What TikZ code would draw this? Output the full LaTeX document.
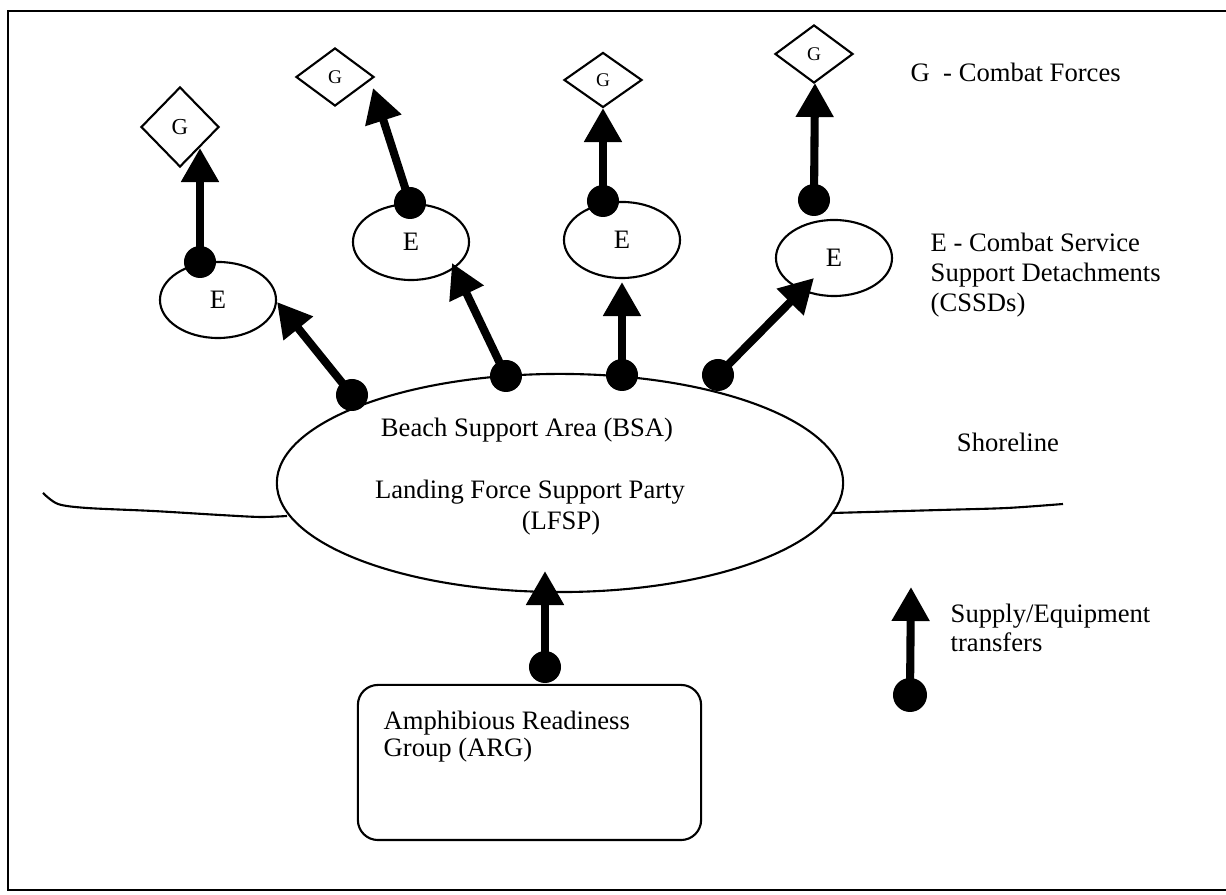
\documentclass[tikz,border=0pt]{standalone}
\usepackage{fontspec}
\setmainfont{Liberation Serif}
\usetikzlibrary{shapes.geometric,arrows.meta}
\begin{document}
\begin{tikzpicture}[x=0.01cm,y=-0.01cm,
  every node/.style={font=\fontsize{7.57}{8.5}\selectfont},
  frame/.style={line width=0.7pt},
  outline/.style={draw,line width=0.6pt},
  shore/.style={line width=0.6pt},
  bigoval/.style={outline,ellipse,minimum width=5.66cm,minimum height=2.18cm,inner sep=0pt},
  eoval/.style={outline,ellipse,minimum width=1.16cm,minimum height=0.76cm,inner sep=0pt},
  gdia/.style={outline,diamond,inner sep=0pt,minimum width=0.78cm},
  blob/.style={circle,fill=black,inner sep=0pt,minimum size=0.32cm},
  flow/.style={line width=2.3pt,-{Triangle[length=3.4mm,width=3.6mm]}},
  legendtext/.style={inner sep=0pt,anchor=west,align=left},
  boxed/.style={outline,rectangle,rounded corners=0.2cm,minimum width=3.43cm,minimum height=1.55cm,inner sep=0pt},
]
\useasboundingbox (0,0) rectangle (1226,895);
% frame
\draw[frame] (1226,11) -- (8,11) -- (8,890) -- (1226,890);

% shoreline
\draw[shore] plot[smooth] coordinates {(43,493) (58,504) (87,508) (153,511) (220,515) (260,517) (287,516)};
\draw[shore] plot[smooth] coordinates {(833,513) (940,510) (1007,508) (1063,504)};

% beach support area
\node[bigoval] (bsa) at (560,483) {};
\node (bsatext) at (527,430) {Beach Support Area (BSA)};
\node (lfsp) at (530,492) {Landing Force Support Party};
\node (lfspabbr) at (561,523) {(LFSP)};

% CSSDs
\node[eoval] (e1) at (218,300) {E};
\node[eoval] (e2) at (411,242) {E};
\node[eoval] (e3) at (622,240) {E};
\node[eoval] (e4) at (834,258) {E};

% combat forces
\node[gdia,minimum height=0.80cm,font=\fontsize{6.5}{7}\selectfont] (g1) at (180,127) {G};
\node[gdia,minimum height=0.58cm,font=\fontsize{5.5}{6}\selectfont] (g2) at (335,77) {\raisebox{-1.5pt}{G}};
\node[gdia,minimum height=0.55cm,font=\fontsize{5.5}{6}\selectfont] (g3) at (603,80) {\raisebox{-1.5pt}{G}};
\node[gdia,minimum height=0.58cm,font=\fontsize{5.5}{6}\selectfont] (g4) at (814,54) {\raisebox{-1.5pt}{G}};

% ARG
\node[boxed] (arg) at (529.5,762.5) {};
\node[legendtext,font=\fontsize{7.57}{7.7}\selectfont] (argtext) at (383,736.5) {Amphibious Readiness\\Group (ARG)};

% tip coordinates
\coordinate (t1) at (277,302);
\coordinate (t2) at (452,263);
\coordinate (t3) at (622,282);
\coordinate (t4) at (814,278);
\coordinate (s1) at (200,148);
\coordinate (s2) at (373,88);
\coordinate (s3) at (603,108);
\coordinate (s4) at (815,83);
\coordinate (ta) at (545,571);
\coordinate (tl) at (911,587);

% dots
\node[blob] (b1) at (352,395) {};
\node[blob] (b2) at (506,376) {};
\node[blob] (b3) at (622,375) {};
\node[blob] (b4) at (718,375) {};
\node[blob] (u1) at (200,262) {};
\node[blob] (u2) at (410,203) {};
\node[blob] (u3) at (603,201) {};
\node[blob] (u4) at (814,200) {};
\node[blob] (a1) at (545,667) {};
\node[blob,minimum size=0.34cm] (l1) at (910,695) {};

% transfers
\draw[flow] (b1.center) -- (t1);
\draw[flow] (b2.center) -- (t2);
\draw[flow] (b3.center) -- (t3);
\draw[flow] (b4.center) -- (t4);
\draw[flow] (u1.center) -- (s1);
\draw[flow] (u2.center) -- (s2);
\draw[flow] (u3.center) -- (s3);
\draw[flow] (u4.center) -- (s4);
\draw[flow] (a1.center) -- (ta);
\draw[flow] (l1.center) -- (tl);

% legend
\node[legendtext] (legg) at (910,72) {G\ \ - Combat Forces};
\node[legendtext] (lege) at (930,275) {E - Combat Service\\Support Detachments\\(CSSDs)};
\node (shoretext) at (1008,442) {Shoreline};
\node[legendtext,font=\fontsize{7.57}{8.25}\selectfont] (legs) at (950,627.5) {Supply/Equipment\\transfers};
\end{tikzpicture}
\end{document}
